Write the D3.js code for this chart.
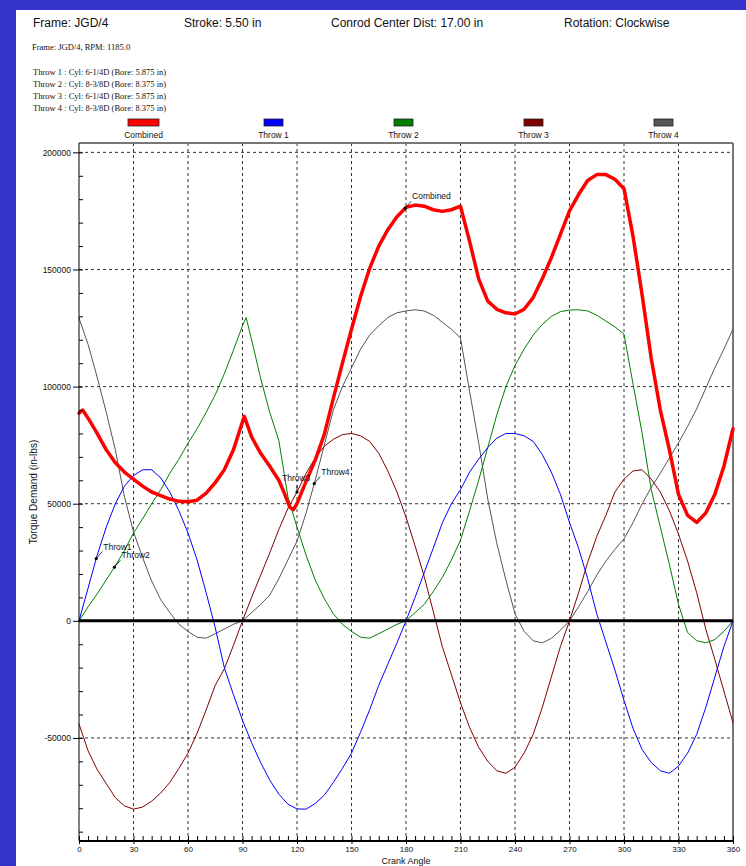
<!DOCTYPE html>
<html><head><meta charset="utf-8">
<script src="https://cdn.jsdelivr.net/npm/d3@7"></script>
<style>body{margin:0;background:#3333cc;} svg{display:block;}</style>
</head><body><svg id="c" width="746" height="866"></svg>
<script>
// ---------- data ----------
const seriesNames = ["Combined", "Throw 1", "Throw 2", "Throw 3", "Throw 4"];
const seriesColors = ["#ff0000", "#0000ff", "#008000", "#800000", "#555555"];

const combined = [[0,88700],[2,90000],[5,86500],[10,80000],[15,73000],[20,67500],[25,63500],[30,60500],[35,57500],[40,55000],[45,53500],[50,52000],[55,51000],[60,50800],[65,51500],[70,54500],[75,59000],[80,64500],[85,73000],[90,85000],[91,87300],[95,78500],[100,71500],[105,66000],[110,60000],[113,54500],[116,48500],[118,47500],[120,50000],[125,59500],[130,68500],[135,79500],[140,95000],[145,110000],[150,124500],[155,138500],[160,150500],[165,160000],[170,167000],[175,172500],[180,176500],[185,177500],[190,177000],[195,175500],[200,174800],[205,175500],[210,177000],[215,162000],[220,146000],[225,136500],[230,133000],[235,131500],[240,131000],[245,133000],[250,138000],[255,146000],[260,155000],[265,165000],[270,175000],[275,182000],[280,188000],[285,190500],[290,190500],[295,188500],[300,184500],[305,164000],[310,139000],[315,112000],[320,90000],[325,73000],[330,54000],[335,45000],[340,42000],[345,46000],[350,54000],[355,66000],[360,82000]];

const throw1 = [[0,0],[5,14000],[10,28000],[15,40000],[20,50000],[25,57500],[30,62000],[35,64500],[40,64500],[45,61000],[50,55000],[55,47000],[60,37500],[65,26000],[70,12000],[75,-3000],[80,-20000],[85,-31500],[90,-42500],[95,-52000],[100,-60500],[105,-68000],[110,-74000],[115,-78300],[120,-80300],[125,-80400],[130,-78000],[135,-74500],[140,-69000],[145,-63000],[150,-56500],[155,-47500],[160,-38000],[165,-27500],[170,-18500],[175,-9500],[180,0],[185,10000],[190,20500],[195,31000],[200,41800],[205,50000],[210,56000],[215,63500],[220,69000],[225,74000],[230,78000],[235,80000],[240,80000],[245,79000],[250,76600],[255,71000],[260,63500],[265,54000],[270,42000],[275,31000],[280,18000],[285,3000],[290,-9000],[295,-21000],[300,-34000],[305,-46000],[310,-55000],[315,-60500],[320,-64000],[325,-65100],[330,-62000],[335,-56500],[340,-48500],[345,-37000],[350,-24000],[355,-11000],[360,0]];

const throw2 = [[0,0],[5,6000],[10,11500],[15,17500],[20,23500],[25,30000],[30,37500],[35,43500],[40,50000],[45,56000],[50,63000],[55,69000],[60,75800],[65,82000],[70,89000],[75,96500],[80,105500],[85,115500],[90,126000],[92,129500],[95,120000],[100,103500],[105,89000],[110,77000],[115,53000],[120,40000],[125,28000],[130,17500],[135,9500],[140,3000],[145,-1500],[150,-4500],[155,-7000],[160,-7400],[165,-5500],[170,-3500],[175,-1500],[180,0],[185,3500],[190,7000],[195,12500],[200,18500],[205,26000],[210,34500],[215,47000],[220,60000],[225,74000],[230,88000],[235,100000],[240,109000],[245,116000],[250,122000],[255,126500],[260,130000],[265,132000],[270,132700],[275,132800],[280,132300],[285,130500],[290,128000],[295,125500],[300,122400],[305,101000],[310,80000],[315,56000],[320,40000],[325,24000],[330,7000],[335,-5000],[340,-8500],[345,-9400],[350,-8000],[355,-4500],[360,0]];

const throw3 = [[0,-44000],[5,-55500],[10,-63500],[15,-69500],[20,-75500],[25,-79000],[30,-80400],[35,-79500],[40,-77000],[45,-73500],[50,-69000],[55,-63000],[60,-56500],[65,-48000],[70,-38000],[75,-27500],[80,-20500],[85,-10500],[90,0],[95,10000],[100,19500],[105,29000],[110,39000],[115,48000],[120,55000],[125,63000],[130,69500],[135,74500],[140,77500],[145,79500],[150,80000],[155,79000],[160,76600],[165,71500],[170,64000],[175,55000],[180,44300],[185,32000],[190,19000],[195,4000],[200,-11000],[205,-23000],[210,-35000],[215,-45500],[220,-54000],[225,-60000],[230,-64000],[235,-65100],[240,-62500],[245,-56500],[250,-48500],[255,-37000],[260,-24000],[265,-11000],[270,0],[275,12000],[280,25000],[285,36000],[290,45000],[295,55000],[300,60500],[305,64000],[310,64500],[315,60500],[320,55000],[325,47000],[330,37000],[335,25500],[340,12000],[345,-3500],[350,-16500],[355,-30000],[360,-43500]];

const throw4 = [[0,129300],[5,118000],[10,104000],[15,89000],[20,73000],[25,53000],[30,38000],[35,27000],[40,17000],[45,9000],[50,3500],[55,-1500],[60,-4500],[65,-7000],[70,-7400],[75,-5500],[80,-3500],[85,-1500],[90,0],[95,3500],[100,7000],[105,11000],[110,18000],[115,26000],[120,34000],[125,46000],[130,60000],[135,75000],[140,90000],[145,100000],[150,108000],[155,116000],[160,122000],[165,126000],[170,129500],[175,131500],[180,132300],[185,132800],[190,132300],[195,130500],[200,127500],[205,124500],[210,120700],[215,98000],[220,76000],[225,52000],[230,33000],[235,17400],[240,3000],[245,-4500],[250,-8500],[255,-9400],[260,-7500],[265,-4000],[270,0],[275,6000],[280,12500],[285,19500],[290,25500],[295,30500],[300,35000],[305,42000],[310,50000],[315,57000],[320,63000],[325,69500],[330,76000],[335,83000],[340,90500],[345,99300],[350,108000],[355,116000],[360,124600]];

const seriesData = [combined, throw1, throw2, throw3, throw4];

const headerTexts = ["Frame: JGD/4", "Stroke: 5.50 in", "Conrod Center Dist: 17.00 in", "Rotation: Clockwise"];
const subTitle = "Frame: JGD/4,  RPM: 1185.0";
const throwInfo = [
  "Throw 1 : Cyl: 6-1/4D (Bore: 5.875 in)",
  "Throw 2 : Cyl: 8-3/8D (Bore: 8.375 in)",
  "Throw 3 : Cyl: 6-1/4D (Bore: 5.875 in)",
  "Throw 4 : Cyl: 8-3/8D (Bore: 8.375 in)"
];
const yTicks = [-50000, 0, 50000, 100000, 150000, 200000];
const xTicks = [0, 30, 60, 90, 120, 150, 180, 210, 240, 270, 300, 330, 360];
const yDomain = [-94000, 204000];
const xDomain = [0, 360];
// annotation: series index, crank angle, label
const annotations = [[0, 179.5, "Combined"], [1, 9.5, "Throw1"], [2, 19.5, "Throw2"], [3, 120, "Throw3"], [4, 129.5, "Throw4"]];
const xTitle = "Crank Angle";
const yTitle = "Torque Demand (in-lbs)";

// ---------- drawing ----------
const svg = d3.select("#c");
svg.append("rect").attr("x", 16).attr("y", 10).attr("width", 730).attr("height", 856).attr("fill", "#fff");

const L = 79, R = 733, T = 143, B = 841;
const x = d3.scaleLinear().domain(xDomain).range([L, R]);
const y = d3.scaleLinear().domain(yDomain).range([B, T]);

// header
const hx = [33, 184, 331, 564];
svg.selectAll("text.hdr").data(headerTexts).enter().append("text")
  .attr("x", (d, i) => hx[i]).attr("y", 27)
  .attr("font-family", "Liberation Sans, Arial, sans-serif").attr("font-size", 12).attr("fill", "#111")
  .text(d => d);

const serif = "Liberation Serif, Times New Roman, serif";
svg.append("text").attr("x", 32).attr("y", 50).attr("font-family", serif).attr("font-size", 8.5)
  .attr("fill", "#111").text(subTitle);
svg.selectAll("text.info").data(throwInfo).enter().append("text")
  .attr("x", 33).attr("y", (d, i) => 75 + i * 12)
  .attr("font-family", serif).attr("font-size", 8.5).attr("fill", "#111").text(d => d);

// legend
const lg = svg.append("g");
seriesNames.forEach((n, i) => {
  const cx = 143.5 + i * 130;
  const w = i === 0 ? 31 : 19;
  lg.append("rect").attr("x", cx - w / 2).attr("y", 119).attr("width", w).attr("height", 7)
    .attr("fill", seriesColors[i]).attr("stroke", "#222").attr("stroke-width", 0.8);
  lg.append("text").attr("x", cx).attr("y", 138).attr("text-anchor", "middle")
    .attr("font-family", "Liberation Sans, Arial, sans-serif").attr("font-size", 8.5).attr("fill", "#111").text(n);
});

// grid
const grid = svg.append("g");
grid.selectAll("line.v").data(xTicks.filter(d => d > 0 && d < 360)).enter().append("line")
  .attr("x1", d => x(d)).attr("x2", d => x(d)).attr("y1", T).attr("y2", B)
  .attr("stroke", "#333").attr("stroke-dasharray", "3,3").attr("stroke-width", 1);
grid.selectAll("line.h").data(yTicks.filter(d => d !== 0)).enter().append("line")
  .attr("x1", L).attr("x2", R).attr("y1", d => y(d)).attr("y2", d => y(d))
  .attr("stroke", "#333").attr("stroke-dasharray", "3,3").attr("stroke-width", 1);

// frame
svg.append("line").attr("x1", L).attr("x2", R).attr("y1", T).attr("y2", T).attr("stroke", "#777").attr("stroke-width", 2);
svg.append("line").attr("x1", R).attr("x2", R).attr("y1", T).attr("y2", B).attr("stroke", "#777").attr("stroke-width", 2);

// series
const line = d3.line().x(d => x(d[0])).y(d => y(d[1]));
const order = [4, 3, 2, 1, 0];
order.forEach(i => {
  svg.append("path").datum(seriesData[i]).attr("d", line).attr("fill", "none")
    .attr("stroke", seriesColors[i]).attr("stroke-width", i === 0 ? 3.5 : 1)
    .attr("stroke-linejoin", "round").attr("stroke-linecap", "round");
});

// zero line
svg.append("line").attr("x1", L).attr("x2", R).attr("y1", y(0)).attr("y2", y(0)).attr("stroke", "#000").attr("stroke-width", 3);

// axes
const tickFont = "Liberation Sans, Arial, sans-serif";
const yAxis = svg.append("g").attr("transform", `translate(${L},0)`)
  .call(d3.axisLeft(y).tickValues(yTicks).tickSize(6).tickPadding(2).tickFormat(d => String(d)));
const yMinor = svg.append("g").attr("transform", `translate(${L},0)`)
  .call(d3.axisLeft(y).tickValues(d3.range(-90000, 200001, 10000)).tickSize(-4).tickFormat(""));
const xAxis = svg.append("g").attr("transform", `translate(0,${B})`)
  .call(d3.axisBottom(x).tickValues(xTicks).tickSize(3).tickPadding(2).tickFormat(d => String(d)));
const xMinor = svg.append("g").attr("transform", `translate(0,${B})`)
  .call(d3.axisBottom(x).tickValues(d3.range(0, 361, 5)).tickSize(-5).tickFormat(""));
[yAxis, yMinor, xAxis, xMinor].forEach(g => {
  g.select(".domain").remove();
  g.selectAll("line").attr("stroke", "#000");
  g.selectAll("text").attr("font-family", tickFont).attr("font-size", 8.5).attr("fill", "#111");
});
xAxis.selectAll("text").attr("font-size", 8);
svg.append("line").attr("x1", L).attr("x2", L).attr("y1", T).attr("y2", B).attr("stroke", "#000").attr("stroke-width", 1);
svg.append("line").attr("x1", L).attr("x2", R + 1).attr("y1", B).attr("y2", B).attr("stroke", "#000").attr("stroke-width", 2);

// axis titles
svg.append("text").attr("x", (L + R) / 2).attr("y", 864).attr("text-anchor", "middle")
  .attr("font-family", tickFont).attr("font-size", 9).attr("fill", "#111").text(xTitle);
svg.append("text").attr("transform", `translate(37,${(T + B) / 2}) rotate(-90)`).attr("text-anchor", "middle")
  .attr("font-family", tickFont).attr("font-size", 10).attr("fill", "#111").text(yTitle);

// annotations
function valueAt(data, a) {
  for (let k = 1; k < data.length; k++) {
    if (data[k][0] >= a) {
      const [a0, v0] = data[k - 1], [a1, v1] = data[k];
      return v0 + (v1 - v0) * (a - a0) / (a1 - a0);
    }
  }
  return data[data.length - 1][1];
}
const ann = svg.append("g");
annotations.forEach(([si, a, label]) => {
  const px = x(a), py = y(valueAt(seriesData[si], a));
  const vertical = si === 3;
  const tx = vertical ? px - 15 : px + 7, ty = vertical ? py - 11 : py - 9;
  ann.append("line").attr("x1", px).attr("y1", py).attr("x2", vertical ? px : px + 6).attr("y2", py - 7)
    .attr("stroke", "#000").attr("stroke-width", 0.8);
  ann.append("circle").attr("cx", px).attr("cy", py).attr("r", 1.6).attr("fill", "#000");
  ann.append("text").attr("x", tx).attr("y", ty).attr("font-family", tickFont).attr("font-size", 8.5)
    .attr("fill", "#111").text(label);
});
</script></body></html>
